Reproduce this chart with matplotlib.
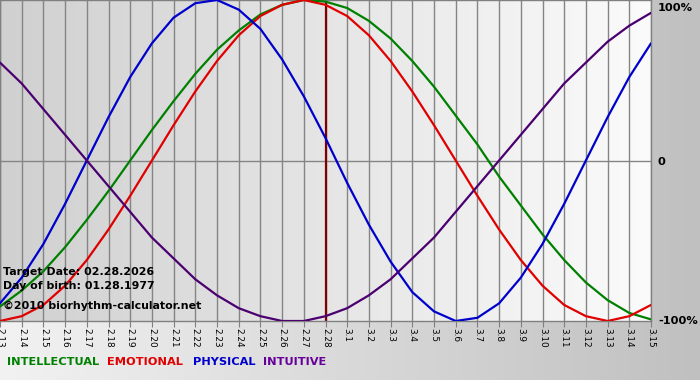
import matplotlib
matplotlib.use("Agg")
import matplotlib.pyplot as plt
import numpy as np

# days shown on the x axis (month.day)
dates = ["2.13", "2.14", "2.15", "2.16", "2.17", "2.18", "2.19", "2.20", "2.21", "2.22",
         "2.23", "2.24", "2.25", "2.26", "2.27", "2.28", "3.1", "3.2", "3.3", "3.4",
         "3.5", "3.6", "3.7", "3.8", "3.9", "3.10", "3.11", "3.12", "3.13", "3.14", "3.15"]
target = "2.28"

# values in percent, one per day
intellectual = [-91, -81, -69, -54, -37, -19, 0, 19, 37, 54, 69, 81, 91, 97, 100, 99,
                95, 87, 76, 62, 46, 28, 10, -10, -28, -46, -62, -76, -87, -95, -99]
emotional = [-100, -97, -90, -78, -62, -43, -22, 0, 22, 43, 62, 78, 90, 97, 100, 97,
             90, 78, 62, 43, 22, 0, -22, -43, -62, -78, -90, -97, -100, -97, -90]
physical = [-89, -73, -52, -27, 0, 27, 52, 73, 89, 98, 100, 94, 82, 63, 40, 14,
            -14, -40, -63, -82, -94, -100, -98, -89, -73, -52, -27, 0, 27, 52, 73]
intuitive = [61, 48, 32, 16, 0, -16, -32, -48, -61, -74, -84, -92, -97, -100, -100, -97,
             -92, -84, -74, -61, -48, -32, -16, 0, 16, 32, 48, 61, 74, 84, 92]

series = [("INTELLECTUAL", intellectual, "#008000", "#008000"),
          ("EMOTIONAL", emotional, "#e00000", "#e00000"),
          ("PHYSICAL", physical, "#0000cc", "#0000cc"),
          ("INTUITIVE", intuitive, "#4b0070", "#660099")]

fig = plt.figure(figsize=(7, 3.8), dpi=100)

# figure background: light on the left, grey on the right
bg = fig.add_axes([0, 0, 1, 1], zorder=-5)
grad = np.linspace(0, 1, 256).reshape(1, -1)
bg.imshow(grad, aspect="auto", cmap=matplotlib.colors.LinearSegmentedColormap.from_list(
    "bg", ["#f2f2f2", "#c0c0c0"]), extent=[0, 1, 0, 1])
bg.set_axis_off()

W, H = 700.0, 380.0
ax = fig.add_axes([0, (H - 321) / H, 651 / W, 321 / H])
x = np.arange(len(dates))
ax.set_xlim(0, len(dates) - 1)
ax.set_ylim(-100, 100)

# plot background: dark grey on the left, almost white on the right
ax.imshow(grad, aspect="auto", zorder=0, extent=[0, len(dates) - 1, -100, 100],
          cmap=matplotlib.colors.LinearSegmentedColormap.from_list("pl", ["#d0d0d0", "#fbfbfb"]))

for xi in x:
    ax.axvline(xi, color="#858585", lw=1, zorder=1)
ax.axhline(0, color="#858585", lw=1, zorder=1)
ax.axvline(dates.index(target), color="#800000", lw=1.6, zorder=2)

for name, vals, col, tcol in series:
    ax.plot(x, vals, color=col, lw=1.6, zorder=3, solid_capstyle="round")

for sp in ax.spines.values():
    sp.set_color("#808080")
    sp.set_linewidth(1)

ax.set_yticks([])
ax.set_xticks(x)
ax.set_xticklabels(dates, rotation=270, fontsize=6.4, family="DejaVu Sans")
ax.tick_params(axis="x", direction="out", length=4, color="#808080", pad=1)

# info text in the lower left corner
info = ["Target Date: 02.28.2026", "Day of birth: 01.28.1977", "\u00a92010 biorhythm-calculator.net"]
for txt, ypix in zip(info, [272, 286, 306]):
    fig.text(3 / W, 1 - ypix / H, txt, fontsize=7.9, fontweight="bold", va="center", ha="left")

# percent labels on the right
for txt, ypix in [("100%", 8), ("0", 162), ("-100%", 321)]:
    fig.text(658 / W, 1 - ypix / H, txt, fontsize=8.2, fontweight="bold", va="center", ha="left")

# coloured legend words along the bottom
for (name, vals, col, tcol), xpix in zip(series, [7, 107, 193, 263]):
    fig.text(xpix / W, 1 - 362 / H, name, fontsize=8.2, fontweight="bold", color=tcol,
             va="center", ha="left")

fig.savefig("out.png", dpi=100)
